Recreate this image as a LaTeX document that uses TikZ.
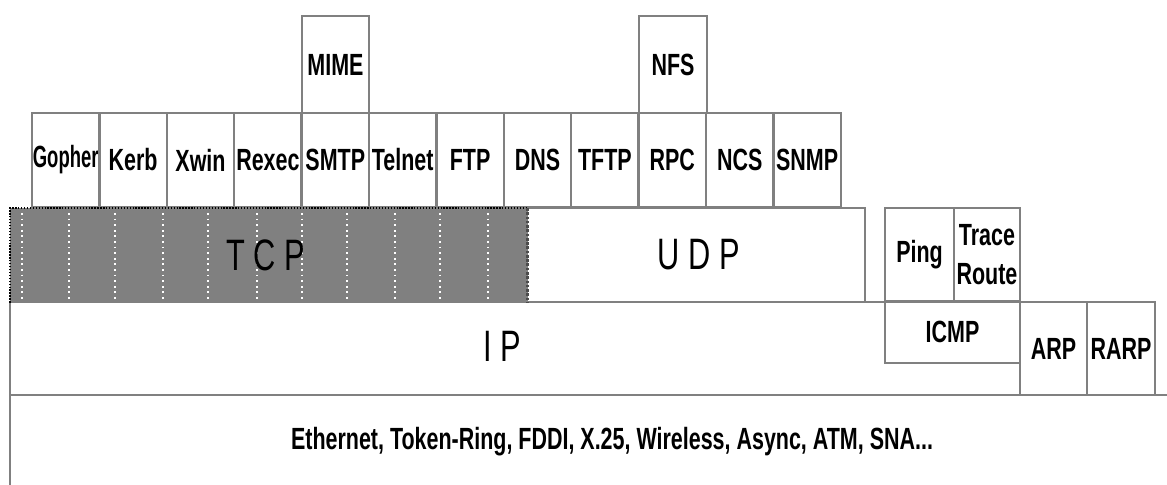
\documentclass[tikz,border=0pt]{standalone}
\usepackage{fontspec}
\setmainfont{Liberation Sans}
\newfontfamily\nf[FakeStretch=0.70]{Liberation Sans}
\definecolor{linegray}{HTML}{808080}
\definecolor{tcpgray}{HTML}{808080}
\newcommand{\lblfont}{\nf\bfseries\fontsize{23pt}{26pt}\selectfont}
\newcommand{\bigfont}{\nf\fontsize{33pt}{36pt}\selectfont}
\newcommand{\bx}[7][]{\node[box, minimum width={(#5-#3)*0.75pt}, minimum height={(#6-#4)*0.75pt}, #1] (#2) at (#3,#4) {#7};}
\tikzset{
  box/.style={draw=linegray, line width=1.9pt, rectangle, inner sep=0pt, outer sep=0pt, anchor=north west, font=\lblfont, align=center},
  txt/.style={inner sep=0pt, font=\lblfont},
  bigtxt/.style={inner sep=0pt, font=\bigfont},
}
\begin{document}
\begin{tikzpicture}[x=0.75pt, y=-0.75pt]
\useasboundingbox (0,0) rectangle (1167,485);
\clip (0,0) rectangle (1167,485);
% link layer
\bx{link}{10}{395}{1200}{520}{}
\node[txt] (linktxt) at (612,442) {Ethernet, Token-Ring, FDDI, X.25, Wireless, Async, ATM, SNA...};
% IP
\bx{ipbox}{10}{302}{1020}{395}{}
\node[bigtxt] (iptxt) at (502,346) {I P};
\bx{icmp}{885}{301}{1020}{363}{ICMP}
\bx{arp}{1020}{302}{1087}{395}{ARP}
\bx{rarp}{1087}{302}{1155}{395}{RARP}
% ping / trace
\bx{ping}{885}{208}{954}{301}{Ping}
\bx[font=\nf\bfseries\fontsize{23pt}{29.25pt}\selectfont]{trace}{954}{208}{1020}{301}{Trace\\Route}
% application row
\foreach \n/\t [count=\i from 0] in {gopher/\scalebox{0.86}[1]{Gopher}, kerb/Kerb, xwin/Xwin, rexec/Rexec, smtp/SMTP, telnet/Telnet, ftp/FTP, dns/DNS, tftp/TFTP, rpc/RPC, ncs/NCS, snmp/SNMP}{
  \pgfmathsetmacro\xa{32+67.4*\i}
  \pgfmathsetmacro\xb{32+67.4*(\i+1)}
  \bx{\n}{\xa}{113}{\xb}{207}{\t}
}
\bx{mime}{302}{16}{369}{113}{MIME}
\bx{nfs}{639}{16}{707}{113}{NFS}
% UDP
\bx{udp}{527}{208}{865}{302}{}
\node[bigtxt] (udptxt) at (699,255) {U D P};
% TCP
\node[rectangle, fill=tcpgray, draw=none, inner sep=0pt, anchor=north west, minimum width={517*0.75pt}, minimum height={94*0.75pt}] (tcp) at (10,208) {};
\foreach \x in {22,69,115,163,208,257,302,347,395,440,488}{
  \draw[white, line width=0.9pt, dash pattern=on 1.4pt off 2.8pt] (\x,213) -- (\x,300);
}
\node[bigtxt] (tcptxt) at (266,255) {T C P};
\draw[black, line width=0.8pt, dash pattern=on 1pt off 1.2pt] (tcp.south west) -- (tcp.north west) -- (tcp.north east);
\draw[black!70, line width=1.6pt, dash pattern=on 2pt off 1.2pt] (tcp.north east) -- (tcp.south east);
\end{tikzpicture}
\end{document}
